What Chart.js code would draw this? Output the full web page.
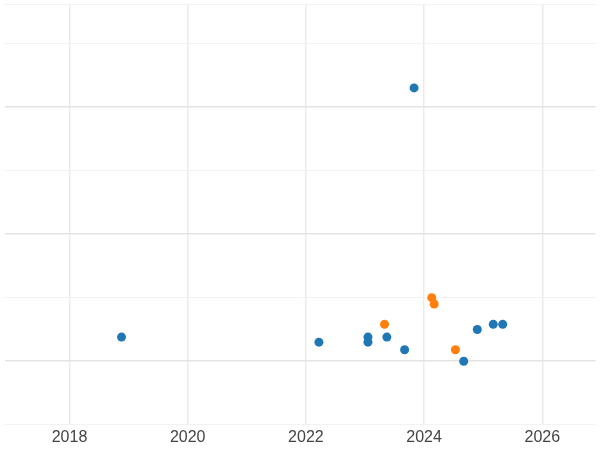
<!DOCTYPE html>
<html>
<head>
<script src="https://cdn.jsdelivr.net/npm/chart.js@4"></script>
<style>body{margin:0;background:#fff}#wrap{width:600px;height:450px}</style>
</head>
<body>
<div id="wrap"><canvas id="c"></canvas></div>
<script>
const blueX = [2018.88, 2022.22, 2023.05, 2023.05, 2023.37, 2023.67, 2023.83, 2024.67, 2024.9, 2025.17, 2025.33];
const blueY = [1.19, 1.15, 1.19, 1.15, 1.19, 1.09, 3.15, 1.0, 1.25, 1.29, 1.29];
const orangeX = [2023.33, 2024.13, 2024.17, 2024.53];
const orangeY = [1.29, 1.5, 1.45, 1.09];
const xTicks = [2018, 2020, 2022, 2024, 2026];

const pts = (xs, ys) => xs.map((x, i) => ({ x: x, y: ys[i] }));

new Chart(document.getElementById('c'), {
  type: 'scatter',
  data: {
    datasets: [
      { data: pts(blueX, blueY), backgroundColor: '#1f77b4', borderWidth: 0, pointRadius: 4.5 },
      { data: pts(orangeX, orangeY), backgroundColor: '#ff7f0e', borderWidth: 0, pointRadius: 4.5 }
    ]
  },
  options: {
    responsive: true,
    maintainAspectRatio: false,
    animation: false,
    layout: { padding: 0 },
    plugins: { legend: { display: false }, tooltip: { enabled: false } },
    scales: {
      x: {
        type: 'linear', min: 2016.9, max: 2026.9,
        afterBuildTicks: axis => { axis.ticks = xTicks.map(v => ({ value: v })); },
        ticks: { color: '#444', font: { size: 16 }, callback: v => String(v) },
        grid: { color: '#ebebeb', lineWidth: 1.5, drawTicks: false },
        border: { display: false }
      },
      y: {
        min: 0.5, max: 3.806,
        ticks: { display: false, stepSize: 0.5 },
        grid: {
          color: ctx => (ctx.tick && Number.isInteger(ctx.tick.value)) ? '#e3e3e3' : '#f2f2f2',
          lineWidth: ctx => (ctx.tick && Number.isInteger(ctx.tick.value)) ? 1.5 : 1,
          drawTicks: false
        },
        border: { display: false }
      }
    }
  }
});
</script>
</body>
</html>
